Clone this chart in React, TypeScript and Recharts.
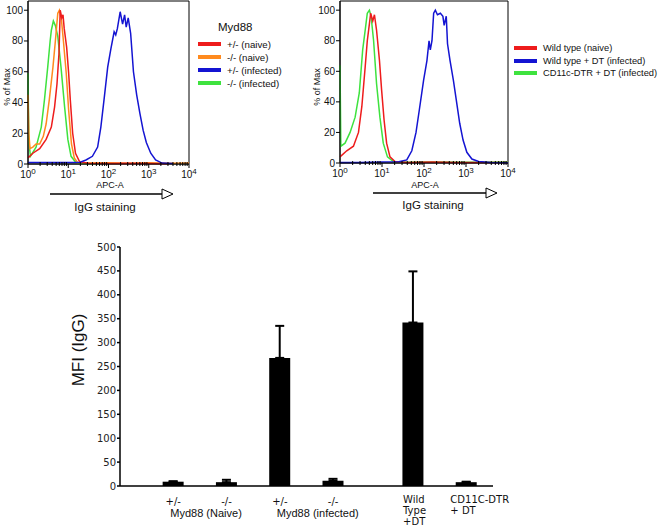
import { Bar, BarChart, ErrorBar, Line, LineChart, ReferenceArea, XAxis, YAxis } from "recharts"

// histograms: x = log10(APC-A), y = % of max
const hetNaive = [
	[0, 4], [0.12, 7], [0.29, 10], [0.45, 16], [0.58, 24], [0.66, 37], [0.72, 52], [0.77, 72],
	[0.8, 100], [0.84, 95], [0.87, 97], [0.9, 88], [0.96, 76], [1.01, 59], [1.05, 42], [1.11, 20],
	[1.18, 7], [1.28, 1.5], [1.5, 0.5], [2.0, 0.4], [2.5, 0.5], [3.0, 0.3], [3.5, 0.2],
]
const koNaive = [
	[0, 45], [0.02, 20], [0.05, 10], [0.12, 11], [0.2, 13], [0.29, 13], [0.38, 18], [0.45, 26],
	[0.53, 42], [0.62, 63], [0.68, 80], [0.74, 98], [0.78, 100], [0.83, 94], [0.88, 80], [0.95, 59],
	[1.01, 35], [1.08, 13], [1.15, 4], [1.23, 1], [1.5, 0.6], [2, 0.8], [2.5, 0.5], [3, 0.8],
	[3.5, 0.5], [4, 0.6],
]
const hetInfected = [
	[0, 1], [0.5, 1], [1, 1], [1.3, 1.2], [1.44, 2.6], [1.6, 5], [1.73, 11], [1.81, 24], [1.89, 42],
	[1.98, 63], [2.06, 75], [2.14, 86], [2.18, 84], [2.22, 88], [2.29, 99], [2.35, 91], [2.4, 97],
	[2.44, 89], [2.49, 95], [2.55, 85], [2.62, 60], [2.7, 45], [2.78, 33], [2.86, 22], [2.94, 14],
	[3.05, 7], [3.17, 2.6], [3.33, 0.6], [3.6, 0.3],
]
const koInfected = [
	[0, 59], [0.02, 15], [0.06, 5], [0.2, 11], [0.33, 24], [0.41, 42], [0.49, 63], [0.55, 80],
	[0.58, 87], [0.63, 93], [0.68, 90], [0.74, 83], [0.82, 63], [0.91, 37], [0.99, 16], [1.07, 5],
	[1.19, 1], [1.4, 0.3], [1.8, 0.3],
]

const wtNaive = [
	[0, 4], [0.16, 8], [0.32, 11], [0.44, 20], [0.52, 37], [0.6, 63], [0.65, 80], [0.7, 91],
	[0.73, 98], [0.78, 93], [0.82, 97], [0.87, 87], [0.94, 67], [0.99, 48], [1.05, 28], [1.11, 13],
	[1.19, 4], [1.31, 1], [1.6, 0.4], [2.2, 0.6], [2.8, 0.4], [3.4, 0.3], [4, 0.3],
]
const wtDt = [
	[0, 0.3], [0.5, 0.4], [1, 0.6], [1.4, 0.8], [1.59, 2], [1.71, 8], [1.81, 20], [1.89, 35],
	[1.99, 54], [2.07, 67], [2.12, 80], [2.15, 74], [2.19, 80], [2.23, 98], [2.27, 100], [2.32, 97],
	[2.39, 98], [2.45, 96], [2.48, 90], [2.53, 96], [2.56, 78], [2.62, 67], [2.7, 54], [2.77, 41],
	[2.85, 26], [2.93, 15], [3.02, 7], [3.14, 2.6], [3.3, 1], [3.58, 0.4], [4, 0.2],
]
const dtrDt = [
	[0, 64], [0.02, 11], [0.12, 13], [0.24, 20], [0.36, 30], [0.46, 46], [0.54, 74], [0.6, 87],
	[0.65, 98], [0.7, 100], [0.74, 96], [0.8, 80], [0.87, 52], [0.95, 30], [1.03, 13], [1.13, 4],
	[1.27, 1], [1.6, 0.5], [2.2, 0.6], [2.8, 0.5], [3.4, 0.5], [4, 0.6],
]

const decades = [0, 1, 2, 3, 4]
const pctTicks = [0, 20, 40, 60, 80, 100]

const leftLegend = ["+/- (naive)", "-/- (naive)", "+/- (infected)", "-/- (infected)"]
const rightLegend = ["Wild type (naive)", "Wild type + DT (infected)", "CD11c-DTR + DT (infected)"]

// bar chart
const barLabels = ["+/-", "-/-", "+/-", "-/-", "Wild|Type|+DT", "CD11C-DTR|+ DT"]
const groupLabels = ["Myd88 (Naive)", "", "Myd88 (infected)", "", "", ""]
const barPos = [0, 1, 2, 3, 4.5, 5.5]
const mfi = [9, 8, 268, 11, 342, 8]
const mfiErr = [1, 5, 67, 4, 107, 1]
const mfiTicks = [0, 50, 100, 150, 200, 250, 300, 350, 400, 450, 500]

const RED = "#ee1c1c"
const ORANGE = "#ff8a1e"
const BLUE = "#1414d2"
const GREEN = "#3ee23e"

const sans = "'Liberation Sans', Arial, sans-serif"
const verdana = "'DejaVu Sans', Verdana, sans-serif"

const toPts = (arr: number[][]) => arr.map(([x, y]) => ({ x, y }))

const minorTicks: number[] = []
decades.slice(0, 4).forEach((d) => {
	minorTicks.push(d)
	for (let k = 2; k < 10; k++) minorTicks.push(d + Math.log10(k))
})
minorTicks.push(4)

function DecadeTick(props: any) {
	const { x, y, payload } = props
	const major = Number.isInteger(payload.value)
	return (
		<g>
			<line x1={x} x2={x} y1={y - (major ? 0 : 2)} y2={y + (major ? 4 : 2)} stroke="#000" />
			{major && (
				<text x={x} y={y + 14} textAnchor="middle" fontSize={10} fill="#111" fontFamily={sans}>
					10
					<tspan dy={-4} fontSize={8}>
						{payload.value}
					</tspan>
				</text>
			)}
		</g>
	)
}

function PctTick(props: any) {
	const { x, y, payload } = props
	return (
		<g>
			<line x1={x - 4} x2={x} y1={y} y2={y} stroke="#000" />
			<text x={x - 5} y={y + 3.5} textAnchor="end" fontSize={10} fill="#111" fontFamily={sans}>
				{payload.value}
			</text>
		</g>
	)
}

const labelDx: Record<number, number> = { 4: -10, 5: -16 }

function BarTick(props: any) {
	const { x, y, payload } = props
	const i = barPos.indexOf(payload.value)
	if (i < 0) return null
	const lines = barLabels[i].split("|")
	const multi = lines.length > 1
	return (
		<g>
			<text
				x={x + (labelDx[i] ?? 0)}
				y={y + (multi ? 17 : 19)}
				textAnchor={multi ? "start" : "middle"}
				fontSize={10}
				fill="#111"
				fontFamily={verdana}
			>
				{lines.map((l, k) => (
					<tspan key={k} x={x + (labelDx[i] ?? 0)} dy={k === 0 ? 0 : 11.2}>
						{l}
					</tspan>
				))}
			</text>
			{groupLabels[i] && (
				<text x={x - 3} y={y + 31} textAnchor="start" fontSize={11} fill="#111" fontFamily={sans}>
					{groupLabels[i]}
				</text>
			)}
		</g>
	)
}

function MfiTick(props: any) {
	const { x, y, payload } = props
	return (
		<text x={x} y={y + 3.5} textAnchor="end" fontSize={10} fill="#222" fontFamily={verdana}>
			{payload.value}
		</text>
	)
}

function Histogram({
	series,
	colors,
	width,
	height,
	right,
}: {
	series: number[][][]
	colors: string[]
	width: number
	height: number
	right: number
}) {
	return (
		<LineChart width={width} height={height} margin={{ top: 1, right, bottom: 0, left: 0 }}>
			<XAxis
				type="number"
				dataKey="x"
				domain={[0, 4]}
				ticks={minorTicks}
				interval={0}
				tickSize={0}
				tickMargin={0}
				tick={DecadeTick}
				height={20}
				stroke="#000"
			/>
			<YAxis
				type="number"
				dataKey="y"
				domain={[0, 106]}
				ticks={pctTicks}
				interval={0}
				tickSize={0}
				tickMargin={0}
				tick={PctTick}
				width={28}
				stroke="#000"
			/>
			<ReferenceArea x1={0} x2={4} y1={0} y2={106} fill="none" stroke="#000" strokeWidth={1} ifOverflow="visible" />
			{series.map((s, i) => (
				<Line
					key={i}
					data={toPts(s)}
					dataKey="y"
					type="linear"
					stroke={colors[i]}
					strokeWidth={1.5}
					dot={false}
					isAnimationActive={false}
				/>
			))}
		</LineChart>
	)
}

function Legend({
	items,
	colors,
	left,
	top,
	step,
	size,
}: {
	items: string[]
	colors: string[]
	left: number
	top: number
	step: number
	size: number
}) {
	return (
		<>
			{items.map((t, i) => (
				<div
					key={t}
					style={{ position: "absolute", left, top: top + i * step - 7, height: 14, display: "flex", alignItems: "center", whiteSpace: "nowrap" }}
				>
					<div style={{ width: 23, height: 4, background: colors[i], marginRight: 6 }} />
					<span style={{ fontFamily: sans, fontSize: size, color: "#111" }}>{t}</span>
				</div>
			))}
		</>
	)
}

const rot = (left: number, top: number, size: number, text: string) => (
	<div
		style={{
			position: "absolute",
			left,
			top,
			transform: "translate(-50%, -50%) rotate(-90deg)",
			fontFamily: sans,
			fontSize: size,
			lineHeight: 1,
			whiteSpace: "nowrap",
			color: "#111",
		}}
	>
		{text}
	</div>
)

const centered = (left: number, top: number, size: number, text: string) => (
	<div
		style={{
			position: "absolute",
			left,
			top,
			transform: "translate(-50%, -50%)",
			fontFamily: sans,
			fontSize: size,
			lineHeight: 1,
			whiteSpace: "nowrap",
			color: "#111",
		}}
	>
		{text}
	</div>
)

export default function App() {
	const barData = barPos.map((p, i) => ({ pos: p, mfi: mfi[i], err: [0, mfiErr[i]] }))

	return (
		<div style={{ position: "absolute", left: 0, top: 0, width: 661, height: 527, background: "#fff", overflow: "hidden" }}>
			<div style={{ position: "absolute", left: 0, top: 0 }}>
				<Histogram
					series={[koInfected, koNaive, hetNaive, hetInfected]}
					colors={[GREEN, ORANGE, RED, BLUE]}
					width={200}
					height={184}
					right={11}
				/>
			</div>
			<div style={{ position: "absolute", left: 312, top: 0 }}>
				<Histogram series={[dtrDt, wtNaive, wtDt]} colors={[GREEN, RED, BLUE]} width={210} height={183} right={14} />
			</div>

			{rot(7, 87, 9, "% of Max")}
			{rot(317, 87, 9, "% of Max")}
			{centered(110, 185, 9, "APC-A")}
			{centered(425, 185, 9, "APC-A")}
			{centered(105, 208, 11.5, "IgG staining")}
			{centered(433, 206, 11.5, "IgG staining")}

			<svg width={661} height={527} style={{ position: "absolute", left: 0, top: 0, pointerEvents: "none" }}>
				<line x1={50} x2={162} y1={194} y2={194} stroke="#000" strokeWidth={1.5} />
				<polygon points="162,189 173,194 162,199" fill="#fff" stroke="#000" strokeWidth={1} />
				<line x1={373} x2={486} y1={193} y2={193} stroke="#000" strokeWidth={1.5} />
				<polygon points="486,188 497,193 486,198" fill="#fff" stroke="#000" strokeWidth={1} />
			</svg>

			<div style={{ position: "absolute", left: 218, top: 21, fontFamily: sans, fontSize: 11.5, color: "#111" }}>Myd88</div>
			<Legend items={leftLegend} colors={[RED, ORANGE, BLUE, GREEN]} left={198} top={44} step={13} size={9.7} />
			<Legend items={rightLegend} colors={[RED, BLUE, GREEN]} left={514} top={48} step={12.5} size={9.3} />

			{rot(78, 350, 17, "MFI (IgG)")}

			<div style={{ position: "absolute", left: 0, top: 230 }}>
				<BarChart width={520} height={297} data={barData} margin={{ top: 17, right: 27, bottom: 0, left: 60 }}>
					<XAxis
						type="number"
						dataKey="pos"
						domain={[-1, 6]}
						ticks={barPos}
						interval={0}
						tickLine={false}
						tickSize={0}
						tickMargin={0}
						tick={BarTick}
						height={41}
						stroke="#000"
						strokeWidth={1.5}
					/>
					<YAxis
						type="number"
						domain={[0, 500]}
						ticks={mfiTicks}
						interval={0}
						tickSize={3}
						tickMargin={1}
						tick={MfiTick}
						width={60}
						stroke="#000"
						strokeWidth={1.5}
					/>
					<Bar dataKey="mfi" fill="#000" barSize={21} isAnimationActive={false}>
						<ErrorBar dataKey="err" direction="y" width={4.5} stroke="#000" strokeWidth={2} isAnimationActive={false} />
					</Bar>
				</BarChart>
			</div>
		</div>
	)
}
